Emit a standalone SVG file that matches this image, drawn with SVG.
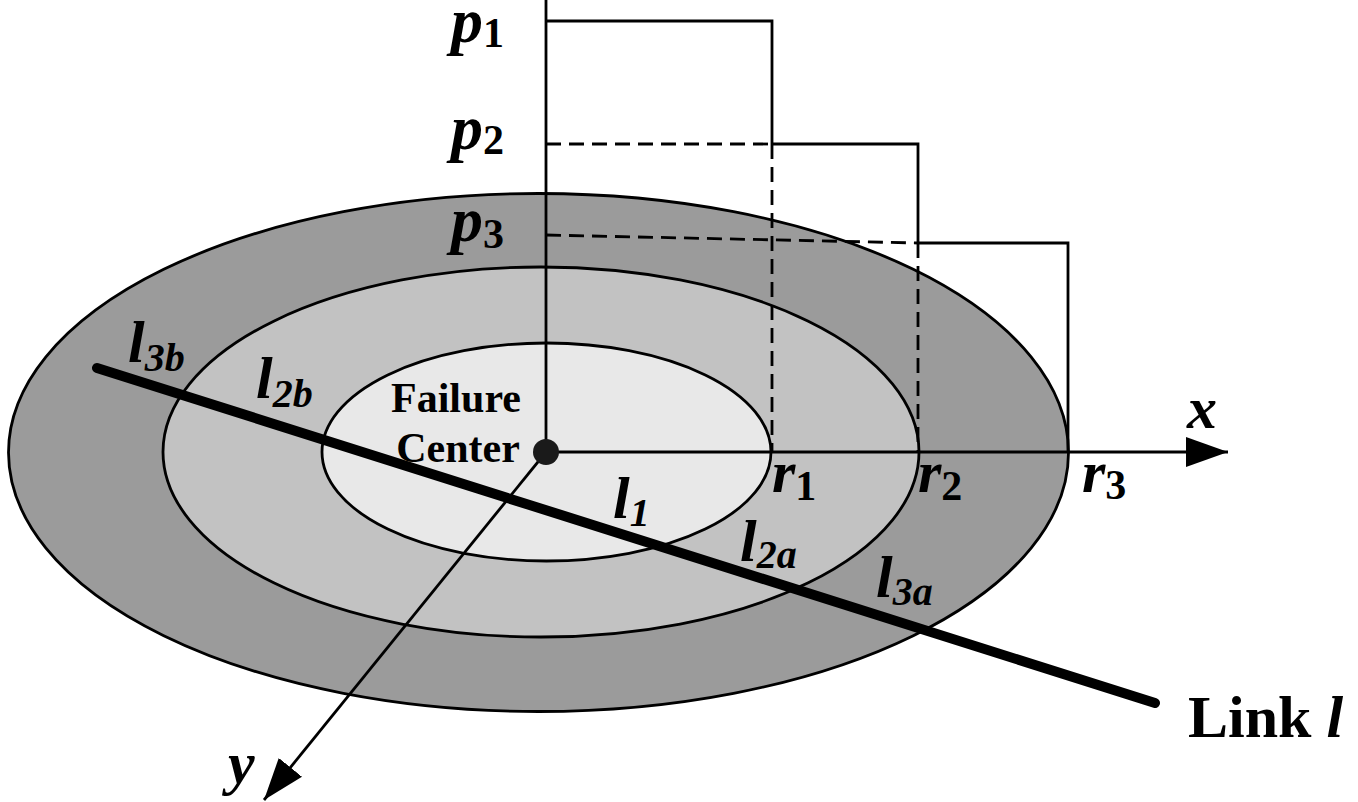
<svg xmlns="http://www.w3.org/2000/svg" width="1358" height="802" viewBox="0 0 1358 802">
<style>
.ring{stroke:#000;stroke-width:2.8}
.ln{stroke:#000;stroke-width:2.8;fill:none}
.ds{stroke:#000;stroke-width:2.8;fill:none;stroke-dasharray:15 8}
.lb{font-family:"Liberation Serif","Times New Roman",serif;font-weight:bold;font-style:italic;font-size:60px;fill:#000}
.pl{font-size:64px}
.sb{font-style:normal;font-size:42px}
.si{font-size:40px}
.tx{font-family:"Liberation Serif","Times New Roman",serif;font-weight:bold;fill:#000}
</style>
<defs>
<marker id="arr" markerUnits="userSpaceOnUse" markerWidth="44" markerHeight="32" refX="42" refY="15" orient="auto">
<path d="M0,0 L42,15 L0,30 z" fill="#000"/>
</marker>
</defs>
<rect width="1358" height="802" fill="#fff"/>
<g id="zone3"><ellipse class="ring" cx="538.5" cy="452.5" rx="530" ry="259" fill="#9b9b9b"/></g>
<g id="zone2"><ellipse class="ring" cx="541" cy="452" rx="378" ry="185" fill="#c2c2c2"/></g>
<g id="zone1"><ellipse class="ring" cx="546.5" cy="452" rx="224.5" ry="109" fill="#e8e8e8"/></g>
<g id="connectors">
<line class="ln" x1="546" y1="0" x2="546" y2="452"/>
<line class="ln" x1="546" y1="452" x2="1228" y2="452" marker-end="url(#arr)"/>
<line class="ln" x1="546" y1="452" x2="264" y2="800" marker-end="url(#arr)"/>
<polyline class="ln" points="546,21 772,21 772,144"/>
<line class="ds" x1="772" y1="144" x2="772" y2="452"/>
<line class="ds" x1="546" y1="144" x2="772" y2="144"/>
<polyline class="ln" points="772,144 918,144 918,243"/>
<line class="ds" x1="918" y1="243" x2="918" y2="452"/>
<line class="ds" x1="546" y1="235" x2="918" y2="243"/>
<polyline class="ln" points="918,243 1068,243 1068,452"/>
<line id="link" x1="97" y1="368" x2="1155" y2="703" stroke="#000" stroke-width="10" stroke-linecap="round"/>
</g>
<g id="center"><circle cx="546" cy="452" r="13" fill="#1a1a1a"/>
<text class="tx" font-size="42" x="456" y="412" text-anchor="middle">Failure</text>
<text class="tx" font-size="42" x="458" y="462" text-anchor="middle">Center</text>
</g>
<g id="labels">
<text class="lb pl" x="451" y="42">p<tspan class="sb" dy="5">1</tspan></text>
<text class="lb pl" x="451" y="149">p<tspan class="sb" dy="5">2</tspan></text>
<text class="lb pl" x="451" y="241">p<tspan class="sb" dy="7">3</tspan></text>
<text class="lb" x="772" y="492">r<tspan class="sb" dy="8">1</tspan></text>
<text class="lb" x="918" y="492">r<tspan class="sb" dy="8">2</tspan></text>
<text class="lb" x="1082" y="492">r<tspan class="sb" dy="7">3</tspan></text>
<text class="lb" x="1187" y="428">x</text>
<text class="lb" x="228" y="783">y</text>
<text class="lb" x="128" y="362">l<tspan class="si" dy="9">3b</tspan></text>
<text class="lb" x="256" y="398">l<tspan class="si" dy="9">2b</tspan></text>
<text class="lb" x="613" y="518">l<tspan class="si" dy="8">1</tspan></text>
<text class="lb" x="740" y="561">l<tspan class="si" dy="7">2a</tspan></text>
<text class="lb" x="876" y="597">l<tspan class="si" dy="8">3a</tspan></text>
<text class="tx" font-size="60" x="1188" y="737">Link <tspan font-style="italic">l</tspan></text>
</g>
</svg>
